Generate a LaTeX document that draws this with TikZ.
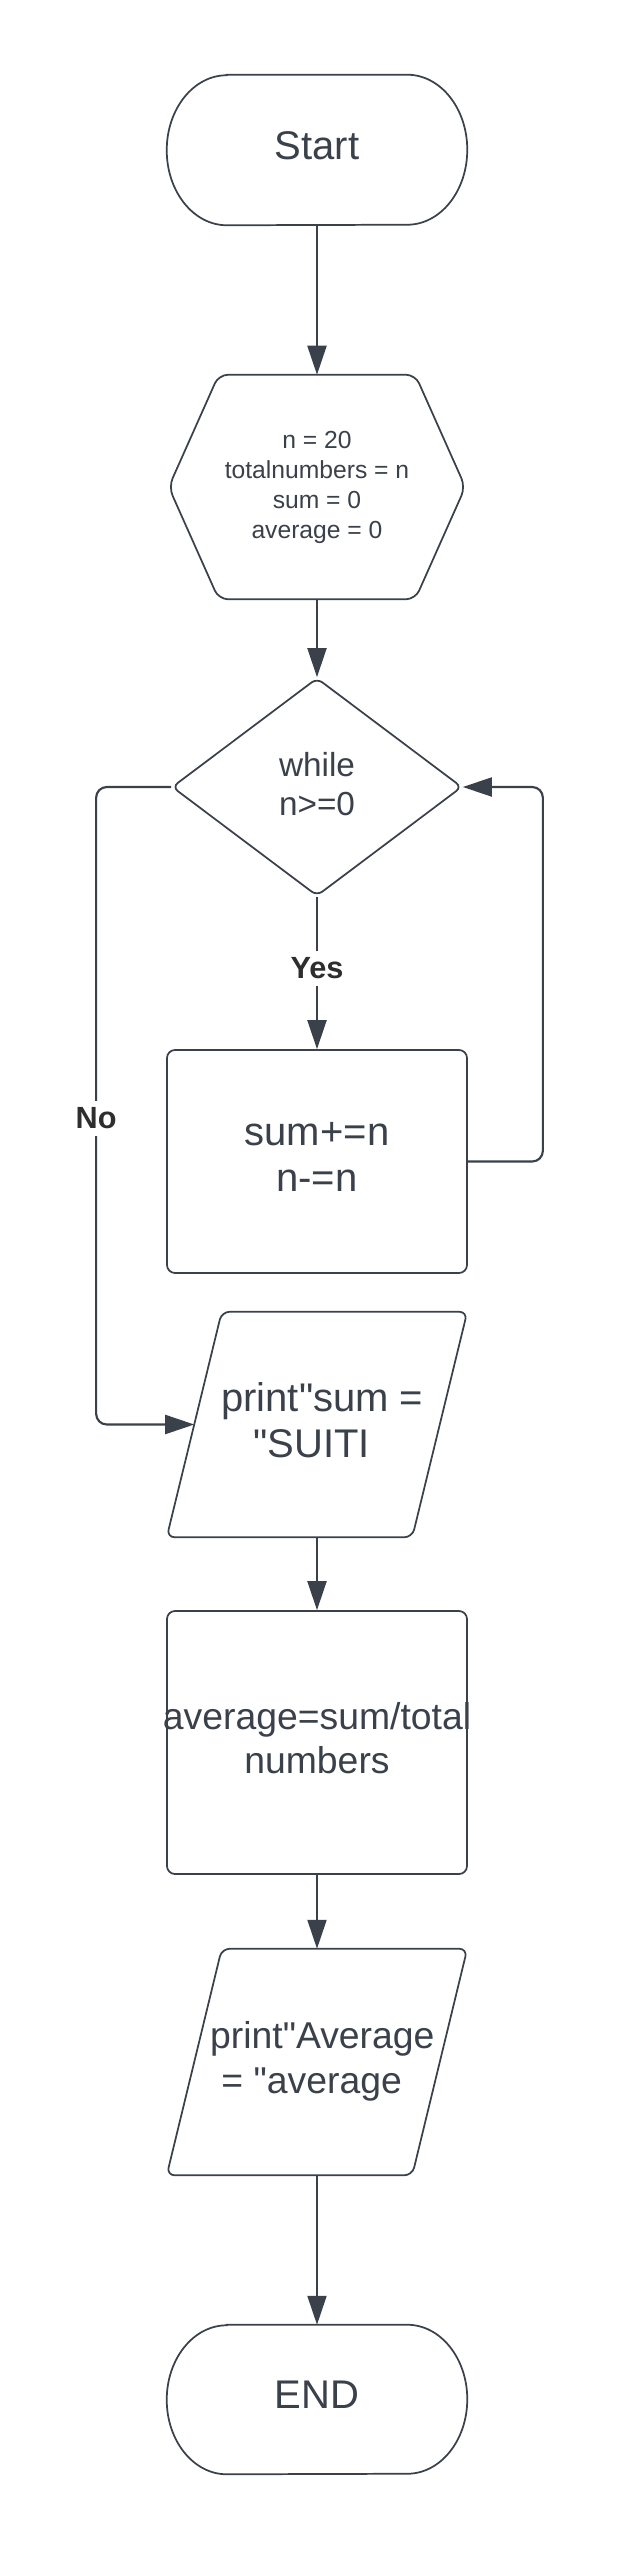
\documentclass[tikz,border=0pt]{standalone}
\usepackage{fontspec}
\setmainfont{Liberation Sans}[Ligatures=TeXOff]
\usetikzlibrary{arrows.meta,shapes.geometric,calc}
\definecolor{ink}{HTML}{3A414A}
\definecolor{lab}{HTML}{2E2E2E}
\newcommand\drawterm[2]{% node name, y radius
  \draw[shp] ($(#1.north west)+(60,0)$) -- ($(#1.north east)+(-60,0)$)
    arc[start angle=90,end angle=-90,x radius=45pt,y radius=#2]
    -- ($(#1.south west)+(60,0)$)
    arc[start angle=270,end angle=90,x radius=45pt,y radius=#2] -- cycle;}
\newcommand\drawpara[1]{%
  \draw[shp, rounded corners=6pt] (#1.north) -- (#1.north east)
    -- ($(#1.south east)+(-55,0)$) -- (#1.south west)
    -- ($(#1.north west)+(55,0)$) -- cycle;}
\begin{document}
\begin{tikzpicture}[x=0.75pt,y=-0.75pt,
  shp/.style={draw=ink, line width=1.3pt},
  conn/.style={draw=ink, line width=1.6pt, -{Triangle[length=21.75pt,width=14.25pt]}},
  big/.style={text=ink, align=center, text depth=7pt, font=\fontsize{30}{34.5}\selectfont},
  mid/.style={text=ink, align=center, text depth=7pt, font=\fontsize{28}{33.5}\selectfont},
  lbl/.style={fill=white, text=lab, font=\fontsize{23}{26}\bfseries\selectfont, inner xsep=2pt, inner ysep=5pt},
  frame/.style={shape=rectangle, inner sep=0pt, minimum width=225pt},
  procbox/.style={shp, rectangle, rounded corners=6pt, minimum width=225pt, inner sep=0pt}]
\fill[white] (0,0) rectangle (619,2550);
\useasboundingbox (0,0) rectangle (619,2550);

% Start
\node[frame, big, minimum height=112.5pt] (start) at (317,150) {Start};
\drawterm{start}{56.25pt}

% initialisation hexagon
\node[frame, minimum width=222pt, minimum height=168pt, text=ink, align=center,
      font=\fontsize{18.5}{22.5}\selectfont] (init) at (317,487)
      {n = 20\\totalnumbers = n\\sum = 0\\average = 0};
\draw[shp, rounded corners=7pt] (init.north) -- ($(init.north east)+(-50,0)$) -- (init.east)
   -- ($(init.south east)+(-50,0)$) -- ($(init.south west)+(50,0)$) -- (init.west)
   -- ($(init.north west)+(50,0)$) -- cycle;

% decision
\node[shp, diamond, minimum width=217.5pt, minimum height=163.5pt, inner sep=0pt,
      rounded corners=5pt, text=ink, align=center, text depth=5pt,
      font=\fontsize{25}{29}\selectfont]
      (dec) at (317,787) {while\\n>=0};

% loop body
\node[procbox, big, minimum height=167.25pt] (box1) at (317,1161.5) {sum+=n\\n-=n};

% print sum
\node[frame, big, minimum height=168.75pt] (p1) at (317,1424.5)
      {\hspace*{8pt}print"sum =\\"SUITI\hspace*{8pt}};
\drawpara{p1}
\coordinate (p1in) at ($(p1.west)+(27.5,0)$);

% average
\node[procbox, mid, minimum height=197.25pt] (box2) at (317,1742.5)
      {\makebox[0pt][c]{average=sum/total}\\numbers};

% print average
\node[frame, mid, minimum height=169.5pt] (p2) at (317,2062)
      {\hspace*{8pt}print"Average\\= "average\hspace*{8pt}};
\drawpara{p2}

% END
\node[frame, big, minimum height=111.75pt] (stop) at (317,2399.5) {END};
\drawterm{stop}{55.875pt}

% connectors
\draw[conn] (start.south) -- (init.north);
\draw[conn] (init.south) -- (dec.north);
\draw[conn] (dec.south) -- (box1.north) node[pos=0.47, lbl] {Yes};
\draw[conn, rounded corners=8pt] (box1.east) -- ++(75,0) |- (dec.east);
\draw[conn, rounded corners=8pt] (dec.west) -- ++(-75,0) |- (p1in) node[pos=0.26, lbl] {No};
\draw[conn] (p1.south) -- (box2.north);
\draw[conn] (box2.south) -- (p2.north);
\draw[conn] (p2.south) -- (stop.north);
\end{tikzpicture}
\end{document}
